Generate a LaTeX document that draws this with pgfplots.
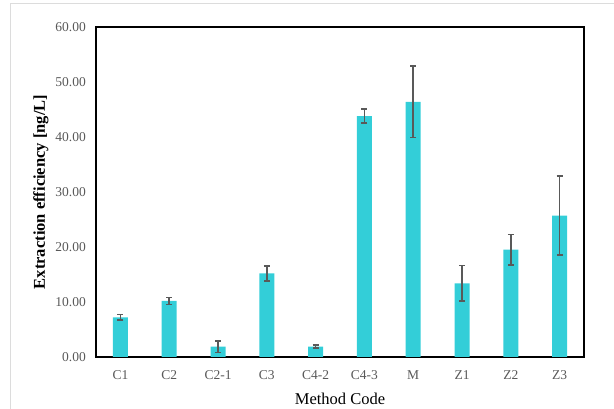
\documentclass[border=0pt]{standalone}
\usepackage{pgfplots}
\pgfplotsset{compat=1.18}
\usepackage{pgfplotstable}
\usepackage{fontspec}
\setmainfont{Liberation Serif}

\definecolor{barc}{HTML}{33CED8}
\definecolor{errc}{HTML}{595959}
\definecolor{tickc}{HTML}{595959}
\definecolor{framec}{HTML}{DCDCDC}

% mean extraction efficiency and its error per method
\pgfplotstableread{
x  y     e
0  7.20  0.50
1  10.20 0.65
2  1.90  1.05
3  15.20 1.35
4  1.90  0.25
5  43.80 1.30
6  46.40 6.50
7  13.40 3.20
8  19.50 2.75
9  25.70 7.20
}\effdata

\begin{document}
\begin{tikzpicture}[x=1pt,y=1pt]
\useasboundingbox (0,0) rectangle (614,409);
\draw[framec, line width=1pt] (10,0) -- (10,405) -- (614,405);
\begin{axis}[
  at={(96pt,52pt)}, anchor=south west,
  scale only axis,
  width=488pt, height=330pt,
  ymin=0, ymax=60,
  xmin=-0.5, xmax=9.5,
  ytick={0,10,...,60},
  xtick=data,
  xticklabels={C1,C2,C2-1,C3,C4-2,C4-3,M,Z1,Z2,Z3},
  major tick length=0pt,
  axis line style={black, line width=1.1pt},
  /pgf/number format/assume math mode=true,
  yticklabel={\pgfmathprintnumber[fixed,fixed zerofill,precision=2]{\tick}},
  yticklabel style={font=\fontsize{13.5}{16}\selectfont, text=tickc, inner sep=0pt, anchor=east, xshift=-10pt},
  xticklabel style={font=\fontsize{13.5}{16}\selectfont, text=tickc, inner sep=0pt, anchor=north, yshift=-13.5pt},
  xlabel={Method Code},
  ylabel={\textbf{Extraction efficiency [ng/L]}},
  xlabel style={font=\fontsize{16.5}{19}\selectfont, inner sep=0pt, at={(axis description cs:0.5,-0.127)}, anchor=center},
  ylabel style={font=\fontsize{16.5}{19}\selectfont, inner sep=0pt, at={(axis description cs:-0.1127,0.5)}, anchor=center},
  clip=false,
]
\addplot[ybar, bar width=15pt, bar shift=0pt, fill=barc, draw=none,
  error bars/.cd, y dir=both, y explicit,
  error bar style={errc, line width=1.6pt},
  error mark options={rotate=90, errc, mark size=3pt, line width=1.6pt}]
  table[x=x, y=y, y error=e] {\effdata};
\end{axis}
\end{tikzpicture}
\end{document}
